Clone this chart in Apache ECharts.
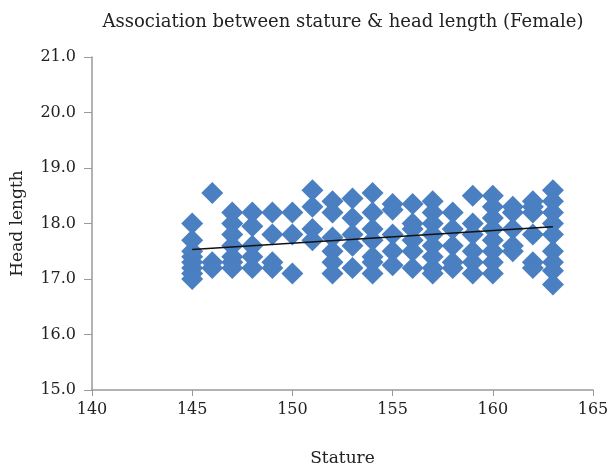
<!DOCTYPE html>
<html>
<head>
<meta charset="utf-8">
<script src="https://cdn.jsdelivr.net/npm/echarts@6/dist/echarts.min.js"></script>
<style>html,body{margin:0;padding:0;background:#fff}#c{width:611px;height:466px}</style>
</head>
<body>
<div id="c"></div>
<script>
var statures = [145,146,147,148,149,150,151,152,153,154,155,156,157,158,159,160,161,162,163];
var headLengths = [
  [18.0,17.7,17.5,17.4,17.3,17.2,17.1,17.0],
  [18.55,17.3,17.2],
  [18.2,18.0,17.8,17.6,17.4,17.3,17.2],
  [18.2,17.95,17.6,17.4,17.2],
  [18.2,17.8,17.3,17.2],
  [18.2,17.8,17.1],
  [18.6,18.3,17.9,17.7],
  [18.4,18.2,17.75,17.5,17.3,17.1],
  [18.45,18.1,17.8,17.6,17.2],
  [18.55,18.2,17.9,17.7,17.4,17.3,17.1],
  [18.35,18.25,17.8,17.5,17.25],
  [18.35,18.0,17.9,17.7,17.5,17.2],
  [18.4,18.2,18.0,17.8,17.6,17.4,17.2,17.1],
  [18.2,17.9,17.6,17.3,17.2],
  [18.5,18.0,17.8,17.5,17.3,17.1],
  [18.5,18.3,18.1,17.9,17.7,17.5,17.3,17.1],
  [18.3,18.2,17.9,17.6,17.5],
  [18.4,18.3,18.2,17.8,17.3,17.2],
  [18.6,18.4,18.2,18.0,17.8,17.5,17.3,17.15,16.9]
];
var trendX = [145,163];
var trendY = [17.53,17.94];
var xTicks = [140,145,150,155,160,165];
var yTicks = [15,16,17,18,19,20,21];

var pts = [];
statures.forEach(function(s,i){ headLengths[i].forEach(function(v){ pts.push([s,v]); }); });
var trend = trendX.map(function(x,i){ return [x, trendY[i]]; });

var font = '"DejaVu Serif","Liberation Serif",serif';
var chart = echarts.init(document.getElementById('c'));
chart.setOption({
  animation:false,
  backgroundColor:'#fff',
  title:{text:'Association between stature & head length (Female)',left:338,textAlign:'center',top:8,
    textStyle:{fontFamily:font,fontWeight:'normal',fontSize:18,color:'#222'}},
  grid:{left:92,right:18,top:57,bottom:76,outerBoundsMode:'none',containLabel:false},
  xAxis:{type:'value',min:140,max:165,interval:5,
    name:'Stature',nameLocation:'middle',nameGap:60,
    nameTextStyle:{fontFamily:font,fontSize:17,color:'#222'},
    axisLine:{lineStyle:{color:'#999',width:1.5}},
    axisTick:{show:true,length:6,lineStyle:{color:'#999'}},
    axisLabel:{fontFamily:font,fontSize:16,color:'#222',margin:12},
    splitLine:{show:false}},
  yAxis:{type:'value',min:15,max:21,interval:1,
    name:'Head length',nameLocation:'middle',nameGap:66,
    nameTextStyle:{fontFamily:font,fontSize:17,color:'#222'},
    axisLine:{show:true,lineStyle:{color:'#999',width:1.5}},
    axisTick:{show:true,length:8,lineStyle:{color:'#999'}},
    axisLabel:{fontFamily:font,fontSize:16,color:'#222',margin:16,formatter:function(v){return v.toFixed(1);}},
    splitLine:{show:false}},
  series:[
    {type:'scatter',data:pts,symbol:'diamond',symbolSize:[22,22],
      itemStyle:{color:'#4a7fc1',opacity:1}},
    {type:'line',data:trend,symbol:'none',lineStyle:{color:'#111',width:1.5},z:5}
  ]
});
</script>
</body>
</html>
